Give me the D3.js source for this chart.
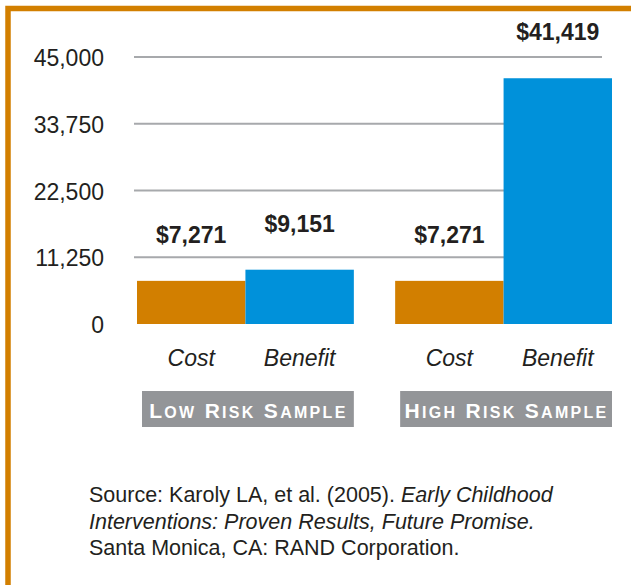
<!DOCTYPE html>
<meta charset="utf-8">
<style>

    body {
        margin: 0;
        background: #fff;
    }

    text {
        font-family: Arial, "Liberation Sans", sans-serif;
        fill: #231f20;
    }

    .frame {
        fill: none;
        stroke: #d27f00;
        stroke-width: 5.5px;
    }

    .grid line {
        stroke: #a7a9ac;
        stroke-width: 2px;
    }

    .tick-label {
        font-size: 23px;
        text-anchor: end;
    }

    .value {
        font-size: 23px;
        font-weight: bold;
        text-anchor: middle;
    }

    .series-label {
        font-size: 23px;
        font-style: italic;
        text-anchor: middle;
    }

    .group-box {
        fill: #939598;
    }

    .group-label {
        fill: #fff;
        font-weight: bold;
        text-anchor: middle;
        letter-spacing: 2.3px;
    }

    .source {
        font-size: 21.5px;
    }

</style>
<svg></svg>
<script src="https://cdn.jsdelivr.net/npm/d3@7"></script>
<script>

    var width = 631,
        height = 585;

    var groups = ["Low Risk Sample", "High Risk Sample"];
    var series = ["Cost", "Benefit"];
    var costValues = [7271, 7271];
    var benefitValues = [9151, 41419];
    var yTicks = [0, 11250, 22500, 33750, 45000];
    var sourceLines = [
        [["Source: Karoly LA, et al. (2005). ", false], ["Early Childhood", true]],
        [["Interventions: Proven Results, Future Promise.", true]],
        [["Santa Monica, CA: RAND Corporation.", false]]
    ];

    var colors = { Cost: "#d27f00", Benefit: "#0091da" };

    var rows = groups.map(function(g, i) {
        return { group: g, values: [
            { key: "Cost", value: costValues[i] },
            { key: "Benefit", value: benefitValues[i] }
        ] };
    });

    var svg = d3.select("svg")
        .attr("width", width)
        .attr("height", height);

    // orange frame, only top and left show
    svg.append("rect")
        .attr("class", "frame")
        .attr("x", 8)
        .attr("y", 8.5)
        .attr("width", 1000)
        .attr("height", 1000);

    var y = d3.scaleLinear()
        .domain([0, 45000])
        .range([324, 57]);

    var x0 = d3.scaleBand()
        .domain(groups)
        .range([137, 612])
        .paddingInner(0.16);

    var x1 = d3.scaleBand()
        .domain(series)
        .range([0, x0.bandwidth()]);

    // gridlines (none at zero)
    svg.append("g")
        .attr("class", "grid")
        .selectAll("line")
        .data(yTicks.filter(function(d) { return d > 0; }))
        .enter().append("line")
        .attr("x1", 134)
        .attr("x2", 602)
        .attr("y1", function(d) { return y(d); })
        .attr("y2", function(d) { return y(d); });

    svg.append("g")
        .selectAll("text")
        .data(yTicks)
        .enter().append("text")
        .attr("class", "tick-label")
        .attr("x", 104)
        .attr("y", function(d) { return y(d); })
        .attr("dy", "0.4em")
        .text(d3.format(","));

    var group = svg.selectAll(".group")
        .data(rows)
        .enter().append("g")
        .attr("class", "group")
        .attr("transform", function(d) { return "translate(" + x0(d.group) + ",0)"; });

    group.selectAll("rect.bar")
        .data(function(d) { return d.values; })
        .enter().append("rect")
        .attr("class", "bar")
        .attr("x", function(d) { return x1(d.key); })
        .attr("width", x1.bandwidth())
        .attr("y", function(d) { return y(d.value); })
        .attr("height", function(d) { return y(0) - y(d.value); })
        .attr("fill", function(d) { return colors[d.key]; });

    group.selectAll("text.value")
        .data(function(d) { return d.values; })
        .enter().append("text")
        .attr("class", "value")
        .attr("x", function(d) { return x1(d.key) + x1.bandwidth() / 2; })
        .attr("y", function(d) { return y(d.value) - 38; })
        .text(function(d) { return "$" + d3.format(",")(d.value); });

    group.selectAll("text.series-label")
        .data(function(d) { return d.values; })
        .enter().append("text")
        .attr("class", "series-label")
        .attr("x", function(d) { return x1(d.key) + x1.bandwidth() / 2; })
        .attr("y", 366)
        .text(function(d) { return d.key; });

    group.append("rect")
        .attr("class", "group-box")
        .attr("x", 5)
        .attr("y", 391)
        .attr("width", x0.bandwidth() - 5)
        .attr("height", 36);

    // small caps by hand: big first letter, smaller rest
    var label = group.append("text")
        .attr("class", "group-label")
        .attr("x", x0.bandwidth() / 2 + 3)
        .attr("y", 417.5);

    label.each(function(d) {
        var t = d3.select(this);
        d.group.split(" ").forEach(function(word, i) {
            t.append("tspan")
                .style("font-size", "21px")
                .text((i > 0 ? " " : "") + word[0].toUpperCase());
            t.append("tspan")
                .style("font-size", "16px")
                .text(word.slice(1).toUpperCase());
        });
    });

    var source = svg.append("text")
        .attr("class", "source");

    sourceLines.forEach(function(line, i) {
        line.forEach(function(part, j) {
            var ts = source.append("tspan")
                .style("font-style", part[1] ? "italic" : "normal")
                .text(part[0]);
            if (j === 0) ts.attr("x", 89).attr("y", 502 + i * 26.7);
        });
    });

</script>
